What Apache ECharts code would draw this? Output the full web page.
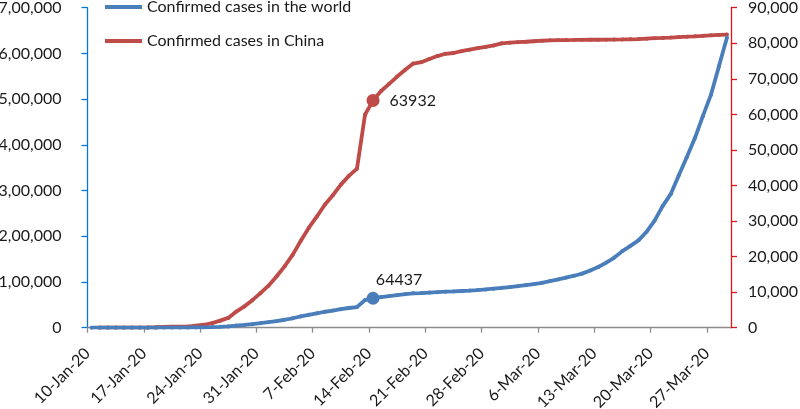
<!DOCTYPE html>
<html>
<head>
<meta charset="utf-8">
<script src="https://cdn.jsdelivr.net/npm/echarts@6/dist/echarts.min.js"></script>
<style>
html,body{margin:0;padding:0;background:#fff;}
#chart{width:800px;height:409px;}
</style>
</head>
<body>
<div id="chart"></div>
<script>
// Daily values, one per day from 10-Jan-20 to 29-Mar-20 (80 days)
const seriesNames = ['Confirmed cases in the world', 'Confirmed cases in China'];
const tickLabels = ['10-Jan-20','17-Jan-20','24-Jan-20','31-Jan-20','7-Feb-20','14-Feb-20','21-Feb-20','28-Feb-20','6-Mar-20','13-Mar-20','20-Mar-20','27-Mar-20'];
const worldCases = [
  41,41,41,41,41,41,45,62,121,198,270,
  282,314,581,846,1320,2014,2798,4593,6065,7818,9826,11953,14557,17391,20630,24554,28276,31481,34886,37558,40554,43103,45171,
  60400,64437,67100,69197,
  71429,73332,75204,75748,76769,77794,78811,79331,80239,81109,82294,83652,85403,
  87137,88948,90870,93090,95324,98192,101927,105586,109577,113702,
  118319,125260,132758,142534,153517,167515,179111,191127,209839,234073,
  266073,292142,332930,372757,414179,462684,509164,571678,634835
];
const chinaCases = [
  null,41,41,41,41,41,45,62,121,198,270,
  278,309,571,830,1297,1985,2761,4537,5997,7736,9720,11821,14411,17238,20471,24363,28060,31211,34598,37251,40235,42708,44730,
  59900,63932,66576,68584,
  70635,72528,74280,74675,75569,76392,77042,77262,77780,78191,78630,78961,79394,
  79968,80174,80304,80422,80565,80711,80813,80859,80904,80924,
  80955,80981,80991,81021,81048,81077,81116,81174,81300,81416,
  81498,81601,81747,81846,81960,82078,82230,82341,82447
];
const highlightIndex = 35; // 14-Feb-20

const FONT = 'Lato';
const BLUE = '#4A7EBB';
const RED = '#BE4B48';

function indianFormat(v){
  const s = String(Math.round(v));
  if (s.length <= 3) return s;
  const last3 = s.slice(-3);
  let rest = s.slice(0, -3);
  const parts = [];
  while (rest.length > 2){ parts.unshift(rest.slice(-2)); rest = rest.slice(0, -2); }
  if (rest.length) parts.unshift(rest);
  return parts.join(',') + ',' + last3;
}
function westFormat(v){
  return String(v).replace(/\B(?=(\d{3})+(?!\d))/g, ',');
}

function buildData(arr, labelOpt){
  return arr.map((v, i) => {
    if (v === null) return [i + 0.5, null];
    if (i === highlightIndex){
      return { value: [i + 0.5, v], symbolSize: 13, label: labelOpt };
    }
    return [i + 0.5, v];
  });
}

const chart = echarts.init(document.getElementById('chart'), null, {renderer: 'canvas'});
const option = {
  animation: false,
  backgroundColor: '#ffffff',
  textStyle: { fontFamily: FONT },
  grid: { left: 87.5, right: 69, top: 7.7, bottom: 81.3, containLabel: false, outerBoundsMode: 'none' },
  legend: {
    left: 105, top: -1, orient: 'vertical', padding: 0,
    icon: 'rect',
    itemWidth: 37, itemHeight: 4, itemGap: 18,
    textStyle: { fontFamily: FONT, fontSize: 16, color: '#1a1a1a' },
    data: seriesNames
  },
  xAxis: {
    type: 'value', min: 0, max: 80, interval: 7,
    axisLine: { show: true, lineStyle: { color: '#8c8c8c', width: 1.3 } },
    axisTick: { show: true, length: 5, lineStyle: { color: '#8c8c8c', width: 1.3 } },
    splitLine: { show: false },
    axisLabel: {
      rotate: 45, margin: 23, fontFamily: FONT, fontSize: 16, color: '#1a1a1a',
      showMaxLabel: false,
      formatter: v => (v % 7 === 0 && tickLabels[v / 7]) ? tickLabels[v / 7] : ''
    }
  },
  yAxis: [
    {
      type: 'value', min: 0, max: 700000, interval: 100000, position: 'left',
      axisLine: { show: true, lineStyle: { color: '#0A78D2', width: 1.3 } },
      axisTick: { show: true, length: 6, lineStyle: { color: '#0A78D2', width: 1.3 } },
      splitLine: { show: false },
      axisLabel: { margin: 26, fontFamily: FONT, fontSize: 16, color: '#1a1a1a', formatter: indianFormat }
    },
    {
      type: 'value', min: 0, max: 90000, interval: 10000, position: 'right',
      axisLine: { show: true, lineStyle: { color: '#E0141E', width: 1.3 } },
      axisTick: { show: true, length: 6, lineStyle: { color: '#E0141E', width: 1.3 } },
      splitLine: { show: false },
      axisLabel: { margin: 17, fontFamily: FONT, fontSize: 16, color: '#1a1a1a', formatter: westFormat }
    }
  ],
  series: [
    {
      name: seriesNames[0], type: 'line', yAxisIndex: 0,
      data: buildData(worldCases, { show: true, position: 'top', distance: 4, offset: [26, 0], fontFamily: FONT, fontSize: 16, color: '#1a1a1a', formatter: p => String(p.value[1]) }),
      symbol: 'circle', symbolSize: 4, showSymbol: true,
      lineStyle: { color: BLUE, width: 3.8 },
      itemStyle: { color: BLUE },
      z: 3
    },
    {
      name: seriesNames[1], type: 'line', yAxisIndex: 1,
      data: buildData(chinaCases, { show: true, position: 'right', distance: 10, fontFamily: FONT, fontSize: 16, color: '#1a1a1a', formatter: p => String(p.value[1]) }),
      symbol: 'circle', symbolSize: 4, showSymbol: true,
      lineStyle: { color: RED, width: 3.8 },
      itemStyle: { color: RED },
      z: 2
    }
  ]
};
chart.setOption(option);
</script>
</body>
</html>
